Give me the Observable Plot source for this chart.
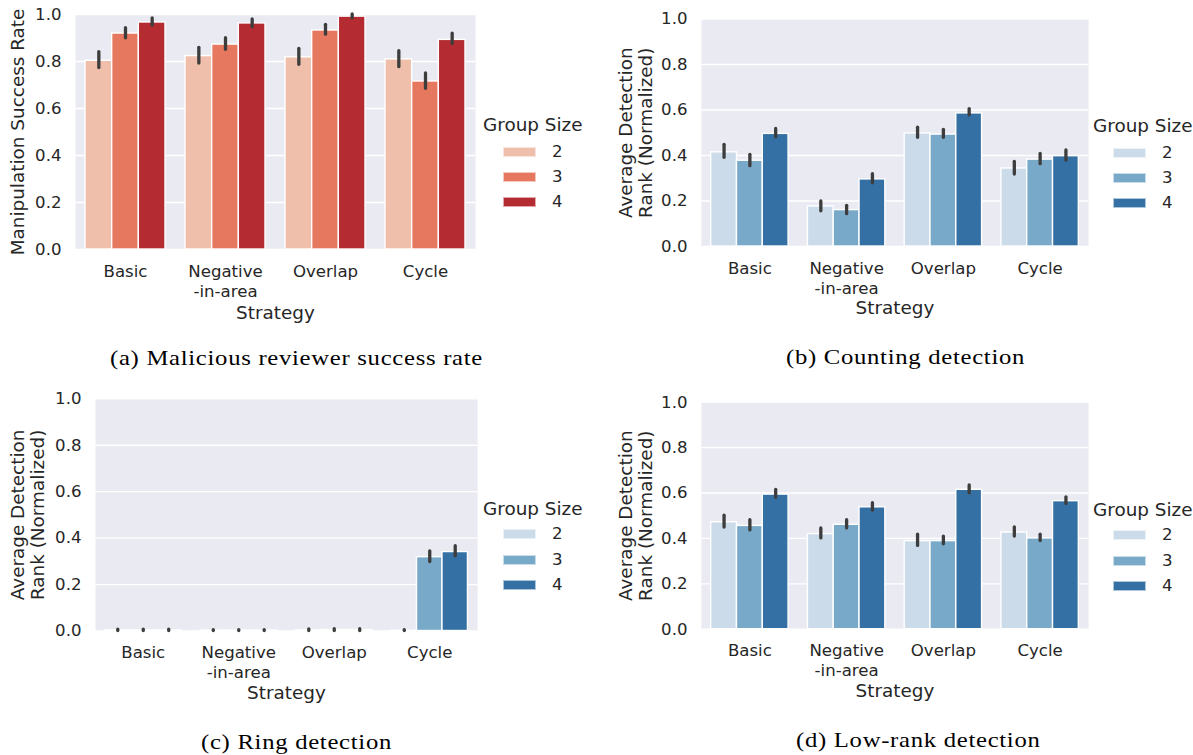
<!DOCTYPE html>
<html>
<head>
<meta charset="utf-8">
<script src="https://cdn.jsdelivr.net/npm/d3@7"></script>
<script src="https://cdn.jsdelivr.net/npm/@observablehq/plot@0.6"></script>
<style>
  html, body { margin: 0; padding: 0; background: #fff; }
  #root { position: relative; width: 1193px; height: 755px; overflow: hidden; font-family: "DejaVu Sans", sans-serif; color: #262626; }
  .panel { position: absolute; }
  .panel svg { overflow: visible; }
  .cap { position: absolute; font-family: "Liberation Serif", serif; font-size: 21px; line-height: 21px; color: #000; white-space: nowrap; letter-spacing: 0.6px; transform-origin: 0 0; }
  .legtitle { position: absolute; font-size: 18.4px; line-height: 18.4px; white-space: nowrap; }
  .legsw { position: absolute; width: 33px; height: 10px; box-sizing: border-box; border: 1px solid rgba(255,255,255,0.6); }
  .leglab { position: absolute; font-size: 16.6px; line-height: 16.6px; }
</style>
</head>
<body>
<div id="root"></div>
<script>
// ---------- data ----------
const strategies = ["Basic", "Negative\n-in-area", "Overlap", "Cycle"];
const groupSizes = ["2", "3", "4"];
const yTicks = [0, 0.2, 0.4, 0.6, 0.8, 1.0];
const redColors = ["#f0bfab", "#e5785f", "#b42b31"];
const blueColors = ["#cbdbea", "#78a9c9", "#3470a3"];

// (a) Malicious reviewer success rate  — rows: group size 2, 3, 4; columns: strategies
const successMean = [[0.803, 0.823, 0.818, 0.809], [0.919, 0.872, 0.932, 0.715], [0.966, 0.962, 0.991, 0.892]];
const successLow  = [[0.772, 0.791, 0.786, 0.776], [0.899, 0.850, 0.914, 0.684], [0.953, 0.946, 0.984, 0.875]];
const successHigh = [[0.840, 0.858, 0.854, 0.844], [0.942, 0.899, 0.956, 0.749], [0.983, 0.979, 1.000, 0.918]];

// (b) Counting detection
const countingMean = [[0.414, 0.176, 0.497, 0.343], [0.377, 0.160, 0.492, 0.382], [0.495, 0.295, 0.585, 0.397]];
const countingLow  = [[0.390, 0.155, 0.478, 0.316], [0.353, 0.142, 0.478, 0.362], [0.480, 0.278, 0.576, 0.378]];
const countingHigh = [[0.447, 0.198, 0.522, 0.372], [0.403, 0.179, 0.513, 0.407], [0.517, 0.318, 0.604, 0.422]];

// (c) Ring detection
const ringMean = [[0.003, 0.002, 0.003, 0.001], [0.003, 0.002, 0.004, 0.318], [0.003, 0.002, 0.004, 0.340]];
const ringLow  = [[0.000, 0.000, 0.000, 0.000], [0.000, 0.000, 0.000, 0.297], [0.000, 0.000, 0.000, 0.322]];
const ringHigh = [[0.006, 0.004, 0.007, 0.004], [0.006, 0.004, 0.008, 0.343], [0.006, 0.004, 0.008, 0.365]];

// (d) Low-rank detection
const lowrankMean = [[0.471, 0.419, 0.388, 0.426], [0.455, 0.460, 0.388, 0.400], [0.593, 0.537, 0.614, 0.564]];
const lowrankLow  = [[0.448, 0.400, 0.367, 0.408], [0.435, 0.444, 0.374, 0.388], [0.579, 0.523, 0.599, 0.552]];
const lowrankHigh = [[0.500, 0.444, 0.416, 0.449], [0.480, 0.480, 0.408, 0.416], [0.614, 0.555, 0.633, 0.581]];

const captions = ["(a) Malicious reviewer success rate", "(b) Counting detection", "(c) Ring detection", "(d) Low-rank detection"];
const xTitle = "Strategy";
const yTitleSuccess = ["Manipulation Success Rate"];
const yTitleRank = ["Average Detection", "Rank (Normalized)"];
const legendTitle = "Group Size";

// ---------- drawing ----------
const root = document.getElementById("root");
const BAR = 0.8 / groupSizes.length;

function rowsOf(mean, low, high) {
  const rows = [];
  groupSizes.forEach((g, gi) => strategies.forEach((s, si) => {
    rows.push({
      g, s,
      x1: si - 0.4 + gi * BAR,
      x2: si - 0.4 + (gi + 1) * BAR,
      xc: si - 0.4 + (gi + 0.5) * BAR,
      v: mean[gi][si], lo: low[gi][si], hi: high[gi][si]
    });
  }));
  return rows;
}

function panel(cfg) {
  const rows = rowsOf(cfg.mean, cfg.low, cfg.high);
  const yTitleMarks = cfg.yTitle.map((t, i) =>
    Plot.text([t], {frameAnchor: "left", dx: cfg.yTitleDx[i], rotate: -90, textAnchor: "middle", lineAnchor: "middle",
      fontSize: 18.4, fill: "#262626", text: d => d})
  );
  const chart = Plot.plot({
    width: cfg.width, height: cfg.height,
    marginLeft: cfg.ml, marginRight: cfg.mr, marginTop: cfg.mt, marginBottom: cfg.mb,
    style: {fontFamily: "DejaVu Sans, sans-serif", fontSize: "16.6px", color: "#262626", background: "transparent", overflow: "visible"},
    x: {domain: [-0.5, 3.5], axis: null},
    y: {domain: [0, 1], axis: null},
    color: {domain: groupSizes, range: cfg.colors},
    marks: [
      Plot.frame({fill: "#eaeaf2", stroke: null}),
      Plot.ruleY(yTicks, {stroke: "#ffffff", strokeWidth: 1.3}),
      Plot.rectY(rows, {x1: "x1", x2: "x2", y1: () => 0, y2: "v", fill: "g", stroke: "#ffffff", strokeWidth: 1.4}),
      Plot.ruleX(rows, {x: "xc", y1: "lo", y2: "hi", stroke: "#3d3d3d", strokeWidth: 3.3, strokeLinecap: "round"}),
      Plot.axisY({ticks: yTicks, tickFormat: d3.format(".1f"), tickSize: 0, tickPadding: 14, label: null, fontSize: 16.6, fill: "#262626"}),
      Plot.axisX({ticks: [0, 1, 2, 3], tickFormat: i => strategies[i], tickSize: 0, tickPadding: 13, lineHeight: 1.2, label: null, fontSize: 16.6, fill: "#262626"}),
      Plot.text([xTitle], {frameAnchor: "bottom", dy: cfg.xTitleDy, textAnchor: "middle", lineAnchor: "bottom", fontSize: 18.4, fill: "#262626", text: d => d}),
      ...yTitleMarks
    ]
  });
  const div = document.createElement("div");
  div.className = "panel";
  div.style.left = cfg.left + "px";
  div.style.top = cfg.top + "px";
  div.appendChild(chart);
  root.appendChild(div);
}

function legend(x, titleBaseline, rowCenters, colors) {
  const t = document.createElement("div");
  t.className = "legtitle";
  t.textContent = legendTitle;
  t.style.left = x + "px";
  t.style.top = (titleBaseline - 0.846 * 18.4) + "px";
  root.appendChild(t);
  groupSizes.forEach((g, i) => {
    const sw = document.createElement("div");
    sw.className = "legsw";
    sw.style.left = (x + 20) + "px";
    sw.style.top = (rowCenters[i] - 5) + "px";
    sw.style.background = colors[i];
    root.appendChild(sw);
    const lb = document.createElement("div");
    lb.className = "leglab";
    lb.textContent = g;
    lb.style.left = (x + 69) + "px";
    lb.style.top = (rowCenters[i] + 6 - 0.846 * 16.6) + "px";
    root.appendChild(lb);
  });
}

const capEls = [];
function caption(text, cx, baseline) {
  const c = document.createElement("div");
  c.className = "cap";
  c.textContent = text;
  c.style.top = (baseline - 0.8375 * 21) + "px";
  root.appendChild(c);
  capEls.push({c, cx});
}

// (a)
panel({mean: successMean, low: successLow, high: successHigh, colors: redColors,
  yTitle: yTitleSuccess, yTitleDx: [-57], xTitleDy: 69,
  left: 0, top: 0, width: 480, height: 340, ml: 75, mr: 5, mt: 14, mb: 91});
// (b)
panel({mean: countingMean, low: countingLow, high: countingHigh, colors: blueColors,
  yTitle: yTitleRank, yTitleDx: [-75, -55], xTitleDy: 67,
  left: 600, top: 0, width: 490, height: 340, ml: 101, mr: 2, mt: 18.5, mb: 94});
// (c)
panel({mean: ringMean, low: ringLow, high: ringHigh, colors: blueColors,
  yTitle: yTitleRank, yTitleDx: [-77.5, -57], xTitleDy: 68,
  left: 0, top: 385, width: 480, height: 330, ml: 95, mr: 3, mt: 13.3, mb: 84.5});
// (d)
panel({mean: lowrankMean, low: lowrankLow, high: lowrankHigh, colors: blueColors,
  yTitle: yTitleRank, yTitleDx: [-75, -55], xTitleDy: 68,
  left: 600, top: 385, width: 490, height: 330, ml: 101, mr: 2, mt: 16.7, mb: 86.3});

legend(483, 132, [152, 177, 202], redColors);
legend(1093, 133, [153, 178, 203], blueColors);
legend(483, 516, [534, 560, 585], blueColors);
legend(1093, 517, [535, 561, 586], blueColors);

caption(captions[0], 296.5, 366);
caption(captions[1], 906, 365);
caption(captions[2], 296.5, 750);
caption(captions[3], 918, 748);

// widen the serif captions uniformly (Computer Modern is wider than Times)
const wA = capEls[0].c.getBoundingClientRect().width;
const sx = 373 / wA;
capEls.forEach(({c, cx}) => {
  const w = c.getBoundingClientRect().width * sx;
  c.style.left = (cx - w / 2) + "px";
  c.style.transform = `scaleX(${sx})`;
});
</script>
</body>
</html>
